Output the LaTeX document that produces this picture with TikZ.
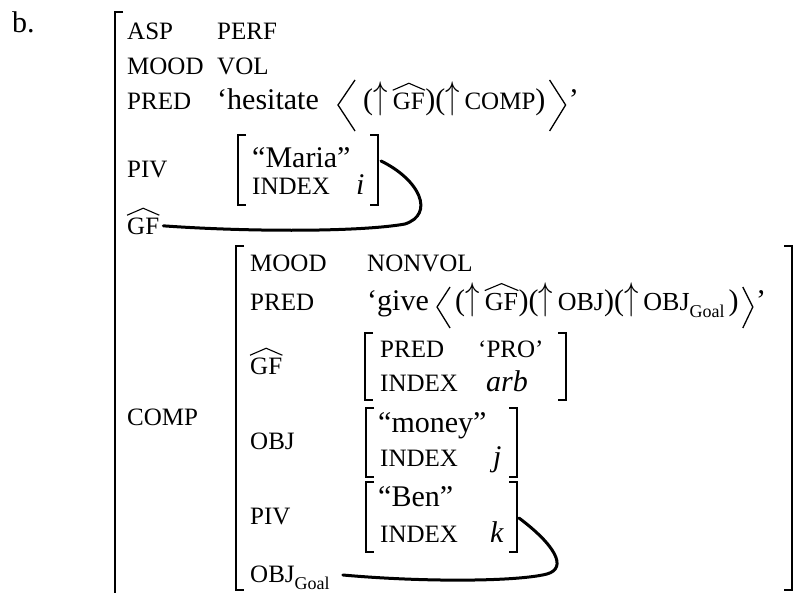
\documentclass[tikz,border=0pt]{standalone}
\usepackage{graphicx}
\usepackage{fontspec}
\setmainfont{Liberation Serif}
\usetikzlibrary{calc}
\newcommand{\fs}[1]{\fontsize{#1}{#1}\selectfont}
\newcommand{\hatover}[1]{\draw[hatline] ($(#1.north west)+(0,-3)$) -- ($(#1.north)+(0,-10)$) -- ($(#1.north east)+(0,-3)$);}
\newcommand{\goal}{\raisebox{-7pt}{\fs{18}Goal}}
\newcommand{\upar}{\raisebox{1pt}{\scalebox{1.15}[1.55]{\(\uparrow\)}}\kern5pt}
\begin{document}
\begin{tikzpicture}[x=1pt,y=-1pt,
  lab/.style={font=\fs{25}, anchor=base west, inner sep=0pt},
  val/.style={font=\fs{30}, anchor=base west, inner sep=0pt},
  ital/.style={font=\fs{30}\itshape, anchor=base west, inner sep=0pt},
  br/.style={line width=1.4pt},
  link/.style={line width=3pt, line cap=round},
  hatline/.style={line width=1.1pt, line join=miter},
  ang/.style={line width=1.3pt, line join=miter}]
\useasboundingbox (0,0) rectangle (801,593);

% label b.
\node[val] (b) at (12,33) {b.};

% outer bracket
\draw[br] (123,12) -- (115,12) -- (115,594);

% outer rows
\node[lab] (asp) at (127,40) {ASP};
\node[lab] (perf) at (217,40) {PERF};
\node[lab] (mood1) at (127,75) {MOOD};
\node[lab] (vol) at (217,75) {VOL};
\node[lab] (pred1) at (127,110) {PRED};
\node[val] (hes) at (217,110) {‘hesitate};
\coordinate (he) at (hes.base east);
\draw[ang] ($(he)+(36,-30)$) -- ($(he)+(19,-5)$) -- ($(he)+(36,21)$);
\node[val] (hes2) at ($(he)+(44,0)$) {(\upar};
\node[lab] (hesgf) at (hes2.base east) {GF};
\hatover{hesgf}
\node[val] (hes3) at (hesgf.base east) {)(\upar{\fs{25}COMP})};
\coordinate (he3) at (hes3.base east);
\draw[ang] ($(he3)+(4,-30)$) -- ($(he3)+(20,-5)$) -- ($(he3)+(4,21)$);
\node[val] (hes4) at ($(he3)+(23,0)$) {’};

% PIV Maria
\node[lab] (piv1) at (127,178) {PIV};
\draw[br] (246,135) -- (238,135) -- (238,205) -- (246,205);
\draw[br] (370,135) -- (378,135) -- (378,205) -- (370,205);
\coordinate (mariaR) at (381,161);
\node[val] (maria) at (252,168) {“Maria”};
\node[lab] (idx1) at (252,195) {INDEX};
\node[ital] (ii) at (356,195) {i};

% GF with link
\node[lab] (gf1) at (127,235) {GF};
\hatover{gf1}
\coordinate (gf1end) at ($(gf1.east)+(4,-1)$);
\draw[link] (gf1end) .. controls (250,232) and (360,232) .. (405,224)
  .. controls (435,214) and (420,180) .. (mariaR);

% COMP
\node[lab] (comp) at (127,426) {COMP};
\draw[br] (244,246) -- (236,246) -- (236,590) -- (244,590);
\draw[br] (784,246) -- (792,246) -- (792,590) -- (784,590);

\node[lab] (mood2) at (250,272) {MOOD};
\node[lab] (nonvol) at (367,272) {NONVOL};
\node[lab] (pred2) at (250,311) {PRED};
\node[val] (give) at (367,311) {‘give};
\coordinate (ge) at (give.base east);
\draw[ang] ($(ge)+(21,-24)$) -- ($(ge)+(8,-4)$) -- ($(ge)+(21,17)$);
\node[val] (give2) at ($(ge)+(26,0)$) {(\upar};
\node[font=\fs{26}, anchor=base west, inner sep=0pt] (givegf) at (give2.base east) {GF};
\hatover{givegf}
\node[val] (give3) at (givegf.base east) {)(\upar{\fs{26}OBJ})(\upar{\fs{26}OBJ}\goal\kern4pt)};
\coordinate (ge3) at (give3.base east);
\draw[ang] ($(ge3)+(4,-24)$) -- ($(ge3)+(14,-4)$) -- ($(ge3)+(4,17)$);
\node[val] (give4) at ($(ge3)+(17,0)$) {’};

% GF PRO
\node[lab] (gf2) at (250,375) {GF};
\hatover{gf2}
\draw[br] (373,333) -- (365,333) -- (365,400) -- (373,400);
\draw[br] (558,333) -- (566,333) -- (566,400) -- (558,400);
\node[lab] (pred3) at (380,358) {PRED};
\node[lab] (pro) at (478,358) {‘PRO’};
\node[lab] (idx2) at (380,392) {INDEX};
\node[ital] (arb) at (486,392) {arb};

% OBJ money
\node[lab] (obj) at (250,450) {OBJ};
\draw[br] (374,408) -- (366,408) -- (366,477) -- (374,477);
\draw[br] (509,408) -- (517,408) -- (517,477) -- (509,477);
\node[val] (money) at (378,433) {“money”};
\node[lab] (idx3) at (380,467) {INDEX};
\node[ital] (jj) at (493,467) {j};

% PIV Ben
\node[lab] (piv2) at (250,525) {PIV};
\draw[br] (374,482) -- (366,482) -- (366,552) -- (374,552);
\draw[br] (509,482) -- (517,482) -- (517,552) -- (509,552);
\coordinate (benR) at (519,518);
\node[val] (ben) at (378,507) {“Ben”};
\node[lab] (idx4) at (380,542) {INDEX};
\node[ital] (kk) at (490,542) {k};

% OBJ Goal with link
\node[lab] (objg) at (250,582) {OBJ\goal};
\coordinate (objgend) at ($(objg.base east)+(13,-7)$);
\draw[link] (objgend) .. controls (420,582) and (515,582) .. (547,574)
  .. controls (568,568) and (555,545) .. (benR);
\end{tikzpicture}
\end{document}
